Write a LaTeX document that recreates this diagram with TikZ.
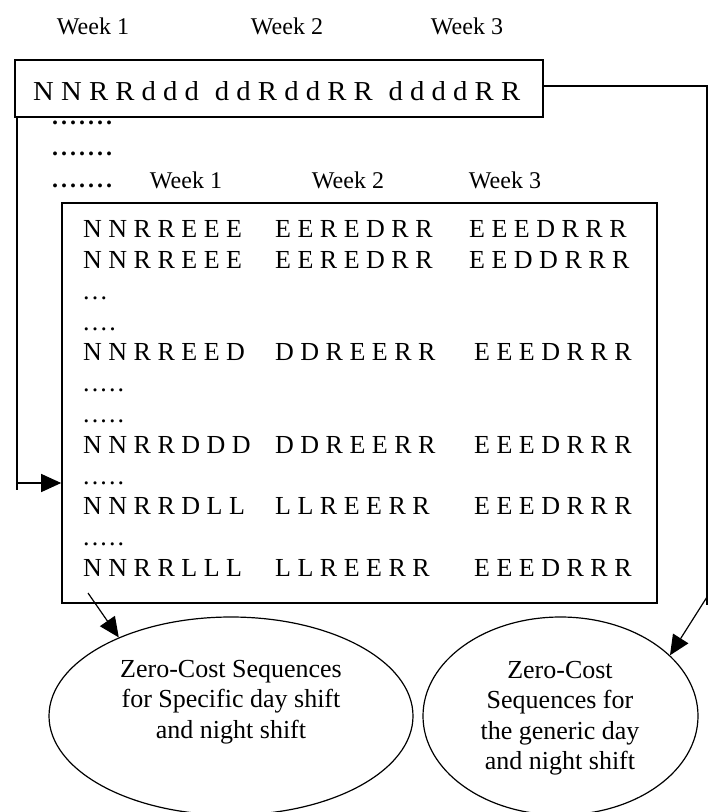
\documentclass[tikz,border=0pt]{standalone}
\usepackage{fontspec}
\setmainfont{Liberation Serif}
\usetikzlibrary{arrows.meta,shapes.geometric}
\begin{document}
\begin{tikzpicture}[x=1pt,y=-1pt,
  box/.style={draw, line width=1.6pt, inner sep=0pt},
  conn/.style={line width=1.2pt},
  arr/.style={conn, -{Triangle[length=20pt,width=18pt]}},
  wk/.style={anchor=base, font=\fontsize{24}{28}\selectfont, inner sep=0pt},
  seq/.style={anchor=base west, font=\fontsize{26}{30}\selectfont, inner sep=0pt},
  bigdots/.style={anchor=base west, font=\fontsize{24}{28}\selectfont\bfseries, inner sep=0pt},
  oval/.style={draw, ellipse, line width=1.2pt, inner sep=0pt},
  ovaltext/.style={align=center, font=\fontsize{26}{30.5}\selectfont, inner sep=0pt}]
\useasboundingbox (0,0) rectangle (715,812);

% top week labels
\node[wk] (w1) at (93,34) {Week 1};
\node[wk] (w2) at (287,34) {Week 2};
\node[wk] (w3) at (467,34) {Week 3};

% top box
\node[box, minimum width=528pt, minimum height=57pt] (topbox) at (279,88.5) {};
\node[anchor=base west, inner sep=0pt] (topseq) at (33,100)
  {\resizebox{487pt}{19pt}{N N R R d d d\hspace{0.55em}d d R d d R R\hspace{0.55em}d d d d R R}};

% dotted rows
\node[bigdots] (d1) at (52,124) {\hbox to 60pt{.\hfil.\hfil.\hfil.\hfil.\hfil.\hfil.}};
\node[bigdots] (d2) at (52,155) {\hbox to 60pt{.\hfil.\hfil.\hfil.\hfil.\hfil.\hfil.}};
\node[bigdots] (d3) at (52,187) {\hbox to 60pt{.\hfil.\hfil.\hfil.\hfil.\hfil.\hfil.}};

% inner week labels
\node[wk] (iw1) at (186,188) {Week 1};
\node[wk] (iw2) at (348,188) {Week 2};
\node[wk] (iw3) at (505,188) {Week 3};

% inner box
\node[box, minimum width=595pt, minimum height=400pt] (ibox) at (359.5,403) {};

% rows
\node[seq] (r1a) at (83,237) {N N R R E E E};
\node[seq] (r1b) at (275,237) {E E R E D R R};
\node[seq] (r1c) at (469,237) {E E E D R R R};
\node[seq] (r2a) at (83,268) {N N R R E E E};
\node[seq] (r2b) at (275,268) {E E R E D R R};
\node[seq] (r2c) at (469,268) {E E D D R R R};
\node[seq] (r3) at (83,299) {\hbox to 24pt{.\hfil.\hfil.}};
\node[seq] (r4) at (83,330) {\hbox to 32.6pt{.\hfil.\hfil.\hfil.}};
\node[seq] (r5a) at (83,360) {N N R R E E D};
\node[seq] (r5b) at (275,360) {D D R E E R R};
\node[seq] (r5c) at (474,360) {E E E D R R R};
\node[seq] (r6) at (83,391) {\hbox to 41pt{.\hfil.\hfil.\hfil.\hfil.}};
\node[seq] (r7) at (83,422) {\hbox to 41pt{.\hfil.\hfil.\hfil.\hfil.}};
\node[seq] (r8a) at (83,453) {N N R R D D D};
\node[seq] (r8b) at (275,453) {D D R E E R R};
\node[seq] (r8c) at (474,453) {E E E D R R R};
\node[seq] (r9) at (83,484) {\hbox to 41pt{.\hfil.\hfil.\hfil.\hfil.}};
\node[seq] (r10a) at (83,514) {N N R R D L L};
\node[seq] (r10b) at (275,514) {L L R E E R R};
\node[seq] (r10c) at (474,514) {E E E D R R R};
\node[seq] (r11) at (83,545) {\hbox to 41pt{.\hfil.\hfil.\hfil.\hfil.}};
\node[seq] (r12a) at (83,576) {N N R R L L L};
\node[seq] (r12b) at (275,576) {L L R E E R R};
\node[seq] (r12c) at (474,576) {E E E D R R R};

% ellipses
\node[oval, minimum width=364pt, minimum height=198pt] (lell) at (231,716) {};
\node[oval, minimum width=275pt, minimum height=198pt] (rell) at (560.5,716) {};
\node[ovaltext] (ltxt) at (231,702) {Zero-Cost Sequences\\for Specific day shift\\and night shift};
\node[ovaltext] (rtxt) at (560,718) {Zero-Cost\\Sequences for\\the generic day\\and night shift};

% connectors
\coordinate (lc1) at (17,490);
\coordinate (lc2) at (17,483);
\draw[conn] (topbox.south west -| lc1) -- (lc1);
\draw[arr] (lc2) -- (lc2 -| ibox.west);

\coordinate (rc1) at (707,86);
\coordinate (rc2) at (707,605);
\coordinate (rc3) at (707,597);
\draw[conn] (topbox.east |- rc1) -- (rc1) -- (rc2);
\draw[arr] (rc3) -- (rell.29);

\coordinate (ls) at (88,593);
\draw[arr] (ls) -- (lell.145);
\end{tikzpicture}
\end{document}
